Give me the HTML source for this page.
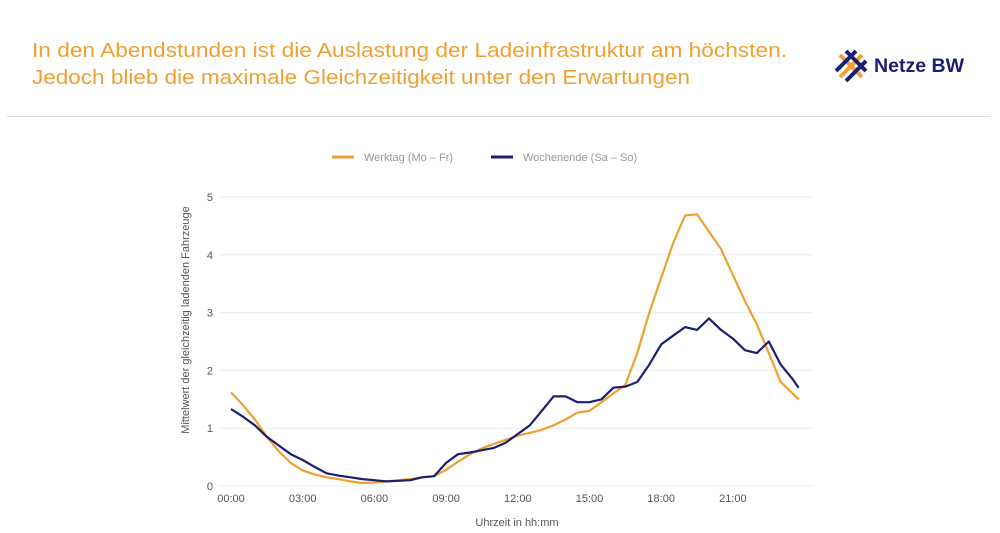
<!DOCTYPE html>
<html><head><meta charset="utf-8"><style>
html,body{margin:0;padding:0;background:#fff;width:1000px;height:533px;overflow:hidden}
svg{display:block}
text{font-family:"Liberation Sans",sans-serif}
</style></head><body>
<svg id="c" width="1000" height="533" viewBox="0 0 1000 533">
<text x="32" y="57" font-size="20" fill="#F0A030" textLength="755" lengthAdjust="spacingAndGlyphs">In den Abendstunden ist die Auslastung der Ladeinfrastruktur am höchsten.</text>
<text x="32" y="84" font-size="20" fill="#F0A030" textLength="658" lengthAdjust="spacingAndGlyphs">Jedoch blieb die maximale Gleichzeitigkeit unter den Erwartungen</text>
<g>
<line x1="840" y1="55" x2="862" y2="77" stroke="#F0A030" stroke-width="4"/>
<line x1="840" y1="77" x2="862" y2="55" stroke="#F0A030" stroke-width="4"/>
<line x1="846" y1="51" x2="866" y2="71" stroke="#1A1F71" stroke-width="4"/>
<line x1="836" y1="71" x2="856" y2="51" stroke="#1A1F71" stroke-width="4"/>
<line x1="846" y1="81" x2="866" y2="61" stroke="#1A1F71" stroke-width="4"/>
<text x="874" y="72" font-size="19" font-weight="bold" fill="#1A1F71" textLength="90" lengthAdjust="spacingAndGlyphs">Netze BW</text>
</g>
<line x1="7" y1="116.5" x2="990" y2="116.5" stroke="#dddddd"/>
<g>
<line x1="332" y1="157" x2="354" y2="157" stroke="#F0A030" stroke-width="3"/>
<text x="364" y="161" font-size="11" fill="#999">Werktag (Mo – Fr)</text>
<line x1="491" y1="157" x2="513" y2="157" stroke="#1A1F71" stroke-width="3"/>
<text x="523" y="161" font-size="11" fill="#999">Wochenende (Sa – So)</text>
</g>
<text transform="translate(189,320) rotate(-90)" text-anchor="middle" font-size="11" fill="#555">Mittelwert der gleichzeitig ladenden Fahrzeuge</text>
<text x="517" y="526" text-anchor="middle" font-size="11" fill="#555">Uhrzeit in hh:mm</text>
<g id="grid"></g><g id="lines"></g>
</svg>
<script>
const hours=[0,0.5,1,1.5,2,2.5,3,3.5,4,4.5,5,5.5,6,6.5,7,7.5,8,8.5,9,9.5,10,10.5,11,11.5,12,12.5,13,13.5,14,14.5,15,15.5,16,16.5,17,17.5,18,18.5,19,19.5,20,20.5,21,21.5,22,22.5,23,23.5,23.75];
const werktag=[1.62,1.4,1.15,0.85,0.6,0.4,0.27,0.2,0.15,0.12,0.08,0.05,0.06,0.08,0.1,0.12,0.15,0.17,0.28,0.42,0.55,0.65,0.73,0.8,0.87,0.92,0.97,1.05,1.15,1.27,1.3,1.45,1.6,1.75,2.3,3.0,3.6,4.2,4.68,4.7,4.4,4.1,3.65,3.2,2.8,2.3,1.8,1.6,1.5];
const wochenende=[1.33,1.2,1.05,0.85,0.7,0.55,0.45,0.33,0.22,0.18,0.15,0.12,0.1,0.08,0.09,0.1,0.15,0.17,0.4,0.55,0.58,0.62,0.66,0.75,0.9,1.05,1.3,1.55,1.55,1.45,1.45,1.5,1.7,1.72,1.8,2.1,2.45,2.6,2.75,2.7,2.9,2.7,2.55,2.35,2.3,2.5,2.1,1.85,1.7];
const yTicks=[0,1,2,3,4,5];
const xTicks=["00:00","03:00","06:00","09:00","12:00","15:00","18:00","21:00"];
const xTickHours=[0,3,6,9,12,15,18,21];
const NS="http://www.w3.org/2000/svg";
const X=h=>231+h*23.9, Y=v=>486-v*57.8;
const grid=document.getElementById('grid'), lines=document.getElementById('lines');
yTicks.forEach(t=>{
 const l=document.createElementNS(NS,'line');
 l.setAttribute('x1',220);l.setAttribute('x2',812);l.setAttribute('y1',Y(t));l.setAttribute('y2',Y(t));
 l.setAttribute('stroke','#ececec');
 
 
 grid.appendChild(l);
 const tx=document.createElementNS(NS,'text');
 tx.setAttribute('x',213);tx.setAttribute('y',Y(t)+4);tx.setAttribute('text-anchor','end');tx.setAttribute('font-size','11');tx.setAttribute('fill','#555');
 tx.textContent=t;
 
 
 grid.appendChild(tx);
});
xTicks.forEach((lab,i)=>{
 const tx=document.createElementNS(NS,'text');
 tx.setAttribute('x',X(xTickHours[i]));tx.setAttribute('y',502);tx.setAttribute('text-anchor','middle');tx.setAttribute('font-size','11');tx.setAttribute('fill','#555');
 tx.textContent=lab;
 
 
 grid.appendChild(tx);
});
function draw(vals,color,name){
 const p=document.createElementNS(NS,'polyline');
 p.setAttribute('points',hours.map((h,i)=>X(h).toFixed(1)+','+Y(vals[i]).toFixed(1)).join(' '));
 p.setAttribute('fill','none');p.setAttribute('stroke',color);p.setAttribute('stroke-width','2.2');p.setAttribute('stroke-linejoin','round');
 
 
 lines.appendChild(p);
}
draw(werktag,'#F0A030','line-werktag');
draw(wochenende,'#1A1F71','line-wochenende');
</script>
</body></html>
